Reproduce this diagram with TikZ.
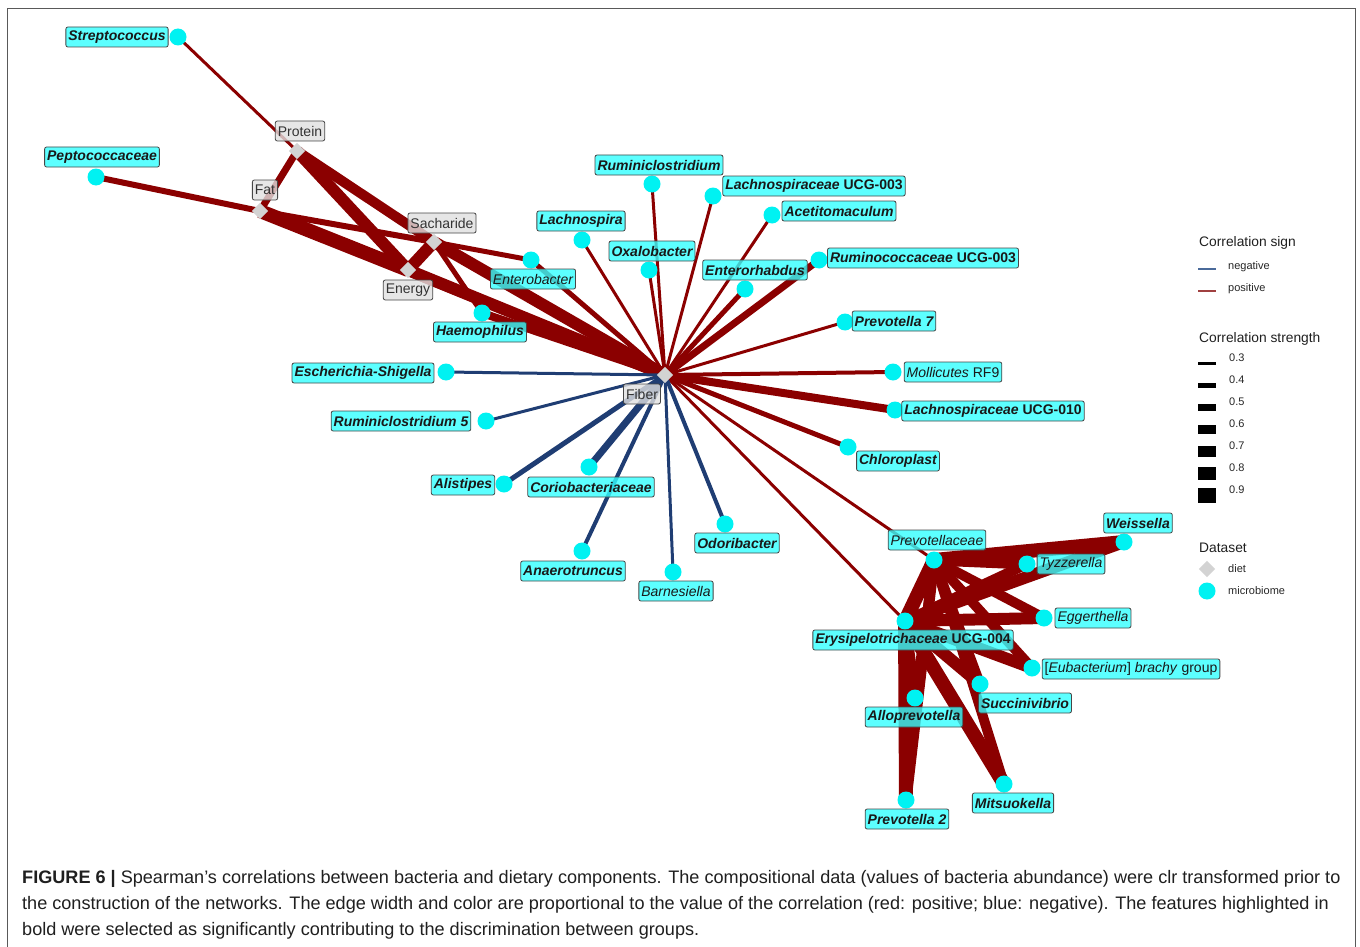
\documentclass[tikz,border=0pt]{standalone}
\usepackage{fontspec}
\setmainfont{Liberation Sans}
\usetikzlibrary{shapes.geometric}
\definecolor{posred}{HTML}{8B0000}
\definecolor{negblue}{HTML}{1F3D73}
\definecolor{labcyan}{HTML}{33FFFF}
\definecolor{miccyan}{HTML}{00F2F2}
\definecolor{dietgray}{HTML}{D3D3D3}
\definecolor{dietlab}{HTML}{E0E0E0}
\definecolor{legblue}{HTML}{4A6A9A}
\definecolor{legred}{HTML}{A04040}
\pgfdeclarelayer{edges}
\pgfsetlayers{edges,main}
\newcommand\labfont{\fontsize{14}{16}\selectfont}
\newcommand\legfont{\fontsize{11}{13}\selectfont}
\newcommand\legtitle{\fontsize{13.8}{16}\selectfont}
\newcommand\capfont{\fontsize{18.1}{21}\selectfont}
\newcommand\ed[4]{\draw[#1,line width=#2pt] (#3.center) -- (#4.center);}
\tikzset{
  mic/.style={circle,fill=miccyan,inner sep=0pt,minimum size=17pt},
  dietpt/.style={diamond,fill=dietgray,inner sep=0pt,minimum size=16.5pt},
  lab/.style={draw=gray!55!black,line width=0.8pt,fill=labcyan,fill opacity=0.8,text opacity=1,
    rounded corners=2pt,inner xsep=2.5pt,inner ysep=0pt,minimum height=20pt,text=black!90},
  lb/.style={lab,font=\labfont\bfseries\itshape},
  li/.style={lab,font=\labfont\itshape},
  lm/.style={lab,font=\labfont},
  dlab/.style={lab,fill=dietlab,font=\labfont,text=black!80},
  posedge/.style={draw=posred},
  negedge/.style={draw=negblue},
  legtxt/.style={anchor=west,inner sep=0pt,font=\legfont,text=black!85},
  legttl/.style={anchor=west,inner sep=0pt,font=\legtitle,text=black!88},
  captxt/.style={anchor=base west,inner sep=0pt,font=\capfont,text=black!88}
}
\begin{document}
\begin{tikzpicture}[x=1pt,y=-1pt]
\useasboundingbox (0,0) rectangle (1360,947);
\draw[gray!70!black,line width=0.8pt] (7,960) -- (7,8) -- (1355,8) -- (1355,960);

% diet nodes
\node[dietpt] (protein) at (297,151) {};
\node[dietpt] (fat) at (260,211) {};
\node[dietpt] (sach) at (434,242) {};
\node[dietpt] (energy) at (408,270) {};
\node[dietpt] (fiber) at (665,375) {};

% microbiome nodes
\node[mic] (strep) at (178,37) {};
\node[mic] (pepto) at (96,177) {};
\node[mic] (entb) at (531,260) {};
\node[mic] (haem) at (482,313) {};
\node[mic] (lachsp) at (582,240) {};
\node[mic] (rumcl) at (652,184) {};
\node[mic] (oxal) at (649,270) {};
\node[mic] (lach3) at (713,196) {};
\node[mic] (acet) at (772,215) {};
\node[mic] (entr) at (745,289) {};
\node[mic] (rumin3) at (819,260) {};
\node[mic] (prev7) at (845,322) {};
\node[mic] (moll) at (893,372) {};
\node[mic] (lach10) at (895,410) {};
\node[mic] (chlor) at (848,447) {};
\node[mic] (esch) at (446,372) {};
\node[mic] (rum5) at (486,421) {};
\node[mic] (alis) at (504,484) {};
\node[mic] (corio) at (589,467) {};
\node[mic] (anae) at (582,551) {};
\node[mic] (barn) at (673,572) {};
\node[mic] (odor) at (725,524) {};
\node[mic] (prevc) at (934,560) {};
\node[mic] (weis) at (1124,542) {};
\node[mic] (tyzz) at (1027,564) {};
\node[mic] (egg) at (1044,618) {};
\node[mic] (erys) at (905,621) {};
\node[mic] (eubac) at (1032,668) {};
\node[mic] (succ) at (980,684) {};
\node[mic] (allo) at (915,698) {};
\node[mic] (mits) at (1004,784) {};
\node[mic] (prev2) at (906,800) {};

\begin{pgfonlayer}{edges}
% diet-diet and diet-bacteria (upper left)
\ed{posedge}{3}{strep}{protein}
\ed{posedge}{6}{pepto}{fat}
\ed{posedge}{7}{protein}{fat}
\ed{posedge}{12}{protein}{energy}
\ed{posedge}{10}{protein}{sach}
\ed{posedge}{6}{fat}{sach}
\ed{posedge}{14}{fat}{energy}
\ed{posedge}{10}{fat}{fiber}
\ed{posedge}{12}{sach}{energy}
\ed{posedge}{12}{sach}{fiber}
\ed{posedge}{12}{energy}{fiber}
\ed{posedge}{5}{sach}{entb}
\ed{posedge}{5}{sach}{haem}
\ed{posedge}{8}{haem}{fiber}
% fiber star, positive
\ed{posedge}{5}{entb}{fiber}
\ed{posedge}{3}{lachsp}{fiber}
\ed{posedge}{3}{rumcl}{fiber}
\ed{posedge}{3}{oxal}{fiber}
\ed{posedge}{3}{lach3}{fiber}
\ed{posedge}{3}{acet}{fiber}
\ed{posedge}{5}{entr}{fiber}
\ed{posedge}{7}{rumin3}{fiber}
\ed{posedge}{3}{prev7}{fiber}
\ed{posedge}{4}{moll}{fiber}
\ed{posedge}{8}{lach10}{fiber}
\ed{posedge}{5}{chlor}{fiber}
\ed{posedge}{3}{prevc}{fiber}
\ed{posedge}{3}{erys}{fiber}
% fiber star, negative
\ed{negedge}{3}{esch}{fiber}
\ed{negedge}{3}{rum5}{fiber}
\ed{negedge}{5}{alis}{fiber}
\ed{negedge}{7}{corio}{fiber}
\ed{negedge}{4}{anae}{fiber}
\ed{negedge}{3}{barn}{fiber}
\ed{negedge}{4}{odor}{fiber}
% cluster
\ed{posedge}{14}{prevc}{erys}
\ed{posedge}{14}{prevc}{weis}
\ed{posedge}{12}{erys}{weis}
\ed{posedge}{11}{prevc}{tyzz}
\ed{posedge}{10}{erys}{tyzz}
\ed{posedge}{10}{prevc}{egg}
\ed{posedge}{12}{erys}{egg}
\ed{posedge}{10}{prevc}{eubac}
\ed{posedge}{12}{erys}{eubac}
\ed{posedge}{10}{prevc}{succ}
\ed{posedge}{12}{erys}{succ}
\ed{posedge}{9}{prevc}{allo}
\ed{posedge}{11}{erys}{allo}
\ed{posedge}{10}{prevc}{mits}
\ed{posedge}{14}{erys}{mits}
\ed{posedge}{11}{prevc}{prev2}
\ed{posedge}{14}{erys}{prev2}
\end{pgfonlayer}

% diet labels
\node[dlab] (l-protein) at (300,131) {Protein};
\node[dlab] (l-fat) at (265,190) {Fat};
\node[dlab] (l-sach) at (442,223) {Sacharide};
\node[dlab] (l-energy) at (408,290) {Energy};
\node[dlab] (l-fiber) at (642,394) {Fiber};

% microbiome labels
\node[lb] (l-strep) at (117,37) {Streptococcus};
\node[lb] (l-pepto) at (102,157) {Peptococcaceae};
\node[li] (l-entb) at (533,279) {Enterobacter};
\node[lb] (l-haem) at (480,332) {Haemophilus};
\node[lb] (l-lachsp) at (581,221) {Lachnospira};
\node[lb] (l-rumcl) at (659,165) {Ruminiclostridium};
\node[lb] (l-oxal) at (652,251) {Oxalobacter};
\node[lab,font=\labfont\bfseries] (l-lach3) at (814,186) {\textit{Lachnospiraceae} UCG-003};
\node[lb] (l-acet) at (839,211) {Acetitomaculum};
\node[lb] (l-entr) at (755,270) {Enterorhabdus};
\node[lab,font=\labfont\bfseries] (l-rumin3) at (923,258) {\textit{Ruminococcaceae} UCG-003};
\node[lb] (l-prev7) at (894,321) {Prevotella 7};
\node[lm] (l-moll) at (953,372) {\textit{Mollicutes} RF9};
\node[lab,font=\labfont\bfseries] (l-lach10) at (993,411) {\textit{Lachnospiraceae} UCG-010};
\node[lb] (l-chlor) at (898,461) {Chloroplast};
\node[lb] (l-esch) at (363,373) {Escherichia-Shigella};
\node[lb] (l-rum5) at (401,421) {Ruminiclostridium 5};
\node[lb] (l-alis) at (463,485) {Alistipes};
\node[lb] (l-corio) at (591,487) {Coriobacteriaceae};
\node[lb] (l-anae) at (573,571) {Anaerotruncus};
\node[li] (l-barn) at (676,591) {Barnesiella};
\node[lb] (l-odor) at (737,543) {Odoribacter};
\node[li] (l-prevc) at (937,540) {Prevotellaceae};
\node[lb] (l-weis) at (1138,523) {Weissella};
\node[li] (l-tyzz) at (1071,564) {Tyzzerella};
\node[li] (l-egg) at (1093,618) {Eggerthella};
\node[lab,font=\labfont\bfseries] (l-erys) at (913,640) {\textit{Erysipelotrichaceae} UCG-004};
\node[lm] (l-eubac) at (1131,669) {[\textit{Eubacterium}] \textit{brachy} group};
\node[lb] (l-succ) at (1025,703) {Succinivibrio};
\node[lb] (l-allo) at (914,717) {Alloprevotella};
\node[lb] (l-mits) at (1013,803) {Mitsuokella};
\node[lb] (l-prev2) at (907,819) {Prevotella 2};

% legend
\node[legttl] (lg-sign) at (1199,243) {Correlation sign};
\coordinate (lg-n1) at (1198,269);
\coordinate (lg-n2) at (1216,269);
\draw[legblue,line width=1.2pt] (lg-n1) -- (lg-n2);
\node[legtxt] (lg-neg) at (1228,267) {negative};
\coordinate (lg-p1) at (1198,291);
\coordinate (lg-p2) at (1216,291);
\draw[legred,line width=1.2pt] (lg-p1) -- (lg-p2);
\node[legtxt] (lg-pos) at (1228,289) {positive};

\node[legttl] (lg-str) at (1199,339) {Correlation strength};
\foreach \v/\h [count=\i from 0] in {0.3/3,0.4/5,0.5/7,0.6/9,0.7/11,0.8/13,0.9/15}{
  \fill[black] (1198,{363+22*\i-\h/2}) rectangle (1216,{363+22*\i+\h/2});
  \node[legtxt] (lg-s\i) at (1229,{358+22*\i}) {\v};
}

\node[legttl] (lg-ds) at (1199,548) {Dataset};
\node[dietpt] (lg-diet) at (1207,569) {};
\node[legtxt] (lg-dt) at (1228,569) {diet};
\node[mic] (lg-mic) at (1207,591) {};
\node[legtxt] (lg-mt) at (1228,591) {microbiome};

% caption
\node[captxt] (cap1) at (22,883) {\textbf{FIGURE 6 |} Spearman’s correlations between bacteria and dietary components. The compositional data (values of bacteria abundance) were clr transformed prior to};
\node[captxt] (cap2) at (22,909) {the construction of the networks. The edge width and color are proportional to the value of the correlation (red: positive; blue: negative). The features highlighted in};
\node[captxt] (cap3) at (22,935) {bold were selected as significantly contributing to the discrimination between groups.};
\end{tikzpicture}
\end{document}
